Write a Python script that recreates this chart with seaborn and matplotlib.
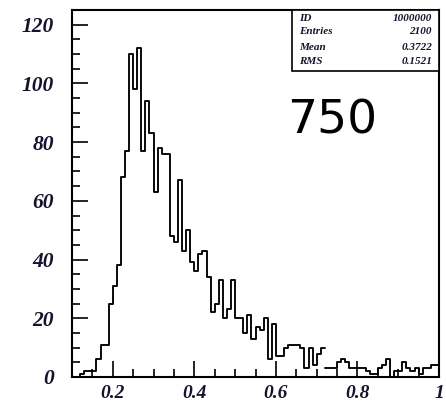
import numpy as np
import pandas as pd
import matplotlib
matplotlib.use("Agg")
import matplotlib.pyplot as plt
from matplotlib.patches import Rectangle
from matplotlib.ticker import MultipleLocator
import seaborn as sns

# Histogram: 90 bins of width 0.01 between 0.1 and 1.0
bin_low = 0.10
bin_width = 0.01
counts = [
    0, 0, 1, 2, 2, 2, 6, 11, 11, 25,
    31, 38, 68, 77, 110, 98, 112, 77, 94, 83,
    63, 78, 76, 76, 48, 46, 67, 43, 50, 39,
    36, 42, 43, 34, 22, 25, 33, 20, 23, 33,
    20, 20, 15, 21, 13, 17, 16, 20, 6, 18,
    7, 7, 10, 11, 11, 11, 10, 3, 10, 4,
    8, 10, 3, 3, 3, 5, 6, 5, 3, 3,
    3, 3, 2, 1, 1, 3, 4, 6, 0, 2,
    2, 5, 3, 2, 3, 1, 3, 3, 4, 4,
]
# the outline is drawn in two pieces, split at this bin index
split_bin = 62

x_ticks_major = [0.2, 0.4, 0.6, 0.8, 1.0]
x_tick_labels = ["0.2", "0.4", "0.6", "0.8", "1"]
y_ticks_major = [0, 20, 40, 60, 80, 100, 120]
y_tick_labels = ["0", "20", "40", "60", "80", "100", "120"]

stats_names = ["ID", "Entries", "Mean", "RMS"]
stats_values = ["1000000", "2100", "0.3722", "0.1521"]
big_label = "750"

n_bins = len(counts)
edges = bin_low + bin_width * np.arange(n_bins + 1)
centers = edges[:-1] + bin_width / 2
df = pd.DataFrame({"x": centers, "n": np.asarray(counts, dtype=float)})

sns.set_style("ticks")
plt.rcParams["font.family"] = ["DejaVu Sans"]

W, H = 446, 405
fig = plt.figure(figsize=(W / 100, H / 100), dpi=100)
ax_l, ax_r, ax_t, ax_b = 72, 439, 10, 377
ax = fig.add_axes([ax_l / W, 1 - ax_b / H, (ax_r - ax_l) / W, (ax_b - ax_t) / H])

line_kw = dict(element="step", fill=False, color="black", linewidth=1.35,
               stat="count", binwidth=bin_width)
pieces = [(0, split_bin), (split_bin, n_bins)]
for a, b in pieces:
    sns.histplot(data=df.iloc[a:b], x="x", weights="n",
                 binrange=(float(edges[a]), float(edges[b])), ax=ax, **line_kw)

ax.set_xlim(0.1, 1.0)
ax.set_ylim(0, 125)
ax.set_xlabel("")
ax.set_ylabel("")

for s in ax.spines.values():
    s.set_visible(True)
    s.set_linewidth(1.5)
    s.set_color("black")

ax.set_xticks(x_ticks_major)
ax.set_xticklabels(x_tick_labels)
ax.set_yticks(y_ticks_major)
ax.set_yticklabels(y_tick_labels)
ax.xaxis.set_minor_locator(MultipleLocator(0.05))
ax.yaxis.set_minor_locator(MultipleLocator(5))
ax.tick_params(axis="both", which="major", direction="in", length=11.5,
               width=1.2, color="black", top=False, right=False)
ax.tick_params(axis="both", which="minor", direction="in", length=5.8,
               width=1.2, color="black", top=False, right=False)
ax.tick_params(axis="x", which="major", pad=5.5)
ax.tick_params(axis="y", which="major", pad=13)

label_color = "#14142e"
tick_font = dict(family=["Liberation Serif", "DejaVu Serif"], weight="bold",
                 style="italic", color=label_color)
for lab in ax.get_yticklabels():
    lab.set(fontsize=15.5, **tick_font)
for lab in ax.get_xticklabels():
    lab.set(fontsize=14, **tick_font)

# statistics box in the upper right corner
box_left = (291.7 - ax_l) / (ax_r - ax_l)
box_bottom = (ax_b - 70.7) / (ax_b - ax_t)
ax.add_patch(Rectangle((box_left, box_bottom), 1 - box_left, 1 - box_bottom,
                       transform=ax.transAxes, facecolor="white",
                       edgecolor="black", linewidth=1.2, zorder=5,
                       clip_on=False))
row_px = [18.3, 32.0, 47.0, 61.3]
for name, val, py in zip(stats_names, stats_values, row_px):
    yy = (ax_b - py) / (ax_b - ax_t)
    kw = dict(transform=ax.transAxes, va="center", fontsize=8,
              family=["Liberation Serif", "DejaVu Serif"], weight="bold",
              style="italic", color=label_color, zorder=6)
    ax.text((299 - ax_l) / (ax_r - ax_l), yy, name, ha="left", **kw)
    ax.text((432 - ax_l) / (ax_r - ax_l), yy, val, ha="right", **kw)

ax.text((332 - ax_l) / (ax_r - ax_l), (ax_b - 134) / (ax_b - ax_t), big_label,
        transform=ax.transAxes, ha="center", va="baseline", fontsize=34,
        family=["DejaVu Sans"], color="black", zorder=6)

fig.savefig("out.png", dpi=100)
